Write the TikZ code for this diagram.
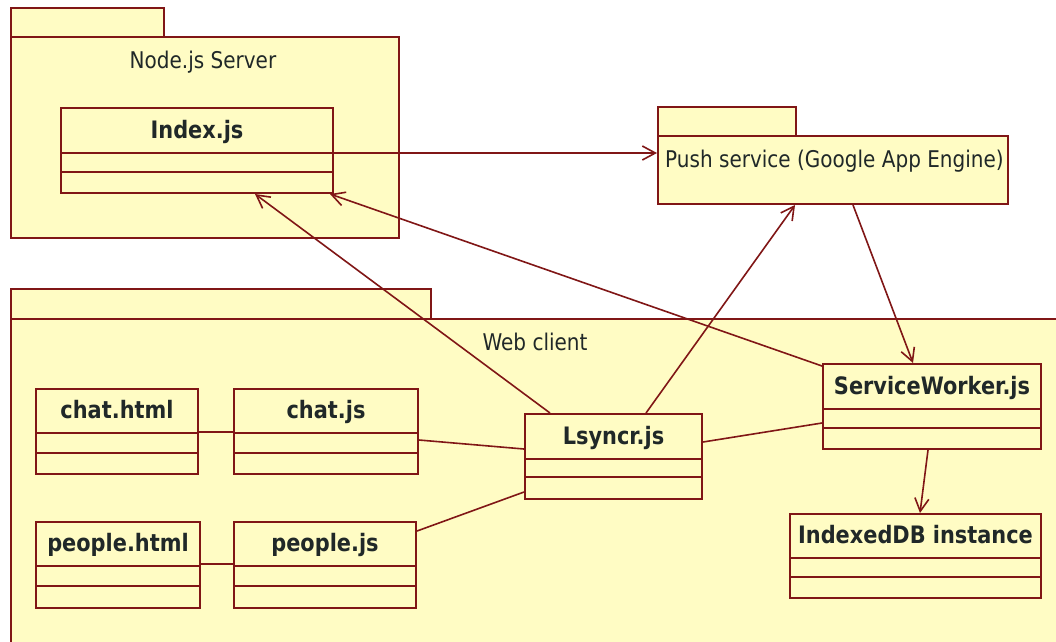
\documentclass[tikz,border=0pt]{standalone}
\usepackage{fontspec}
\setmainfont{DejaVu Sans}[FakeStretch=0.87]
\usetikzlibrary{arrows.meta}
\definecolor{umlfill}{RGB}{255,252,196}
\definecolor{umlline}{RGB}{128,22,22}
\definecolor{umltext}{RGB}{32,40,40}
\tikzset{
  box/.style={draw=umlline, fill=umlfill, line width=2pt, inner sep=0pt, anchor=north west},
  cname/.style={font=\bfseries\fontsize{24}{28}\selectfont, text=umltext, anchor=base, inner sep=0pt},
  ptitle/.style={font=\fontsize{23}{27}\selectfont, text=umltext, anchor=base, inner sep=0pt},
  dep/.style={draw=umlline, line width=1.6pt, -{Straight Barb[length=13pt,width=14pt]}},
  assoc/.style={draw=umlline, line width=1.6pt},
  divider/.style={draw=umlline, line width=2pt},
}
\newcommand\umlclass[8]{%
  \node[box, minimum width=#4pt, minimum height=#5pt] (#1) at (#2,#3) {};
  \draw[divider] (#1.west |- 0,#6) -- (#1.east |- 0,#6);
  \draw[divider] (#1.west |- 0,#7) -- (#1.east |- 0,#7);
  \node[cname, yshift=15pt] (#1-t) at (#1.north |- 0,#6) {#8};
}
\begin{document}
\begin{tikzpicture}[x=1pt,y=-1pt]
\useasboundingbox (0,0) rectangle (1056,641);
\clip (0,0) rectangle (1056,641);
\fill[white] (0,0) rectangle (1056,641);

% Node.js Server package
\node[box, minimum width=153pt, minimum height=29pt] (srvtab) at (10,7) {};
\node[box, minimum width=388pt, minimum height=201pt] (srv) at (10,36) {};
\node[ptitle] (srvt) at (203,68) {Node.js Server};

% Push service package
\node[box, minimum width=138pt, minimum height=29pt] (pushtab) at (657,106) {};
\node[box, minimum width=350pt, minimum height=68pt] (push) at (657,135) {};
\node[ptitle, anchor=base west] (pusht) at (665,167) {Push service (Google App Engine)};

% Web client package
\node[box, minimum width=420pt, minimum height=30pt] (webtab) at (10,288) {};
\node[box, minimum width=1100pt, minimum height=400pt] (web) at (10,318) {};
\node[ptitle] (webt) at (535,350) {Web client};

% classes
\umlclass{idx}{60}{107}{272}{85}{153}{172}{Index.js}
\umlclass{chtml}{35}{388}{162}{85}{433}{453}{chat.html}
\umlclass{cjs}{233}{388}{184}{85}{433}{453}{chat.js}
\umlclass{phtml}{35}{521}{164}{86}{566}{586}{people.html}
\umlclass{pjs}{233}{521}{182}{86}{566}{586}{people.js}
\umlclass{lsy}{524}{413}{177}{85}{459}{477}{Lsyncr.js}
\umlclass{sw}{822}{363}{218}{85}{409}{428}{ServiceWorker.js}
\umlclass{idb}{789}{513}{251}{84}{558}{577}{IndexedDB instance}

% dependencies
\draw[dep] (idx.east |- 0,153) -- (push.west |- 0,153);
\draw[dep] ([xshift=26pt]lsy.north west) -- ([xshift=195pt]idx.south west);
\draw[dep] ([yshift=-3pt]sw.north west) -- ([xshift=-4pt]idx.south east);
\draw[dep] ([xshift=122pt]lsy.north west) -- ([xshift=138pt]push.south west);
\draw[dep] ([xshift=196pt]push.south west) -- ([xshift=91pt]sw.north west);
\draw[dep] ([xshift=106pt]sw.south west) -- ([xshift=131pt]idb.north west);

% associations
\draw[assoc] (chtml.east |- 0,432) -- (cjs.west |- 0,432);
\draw[assoc] (phtml.east |- 0,564) -- (pjs.west |- 0,564);
\draw[assoc] (cjs.east |- 0,440) -- (lsy.west |- 0,449);
\draw[assoc] (pjs.east |- 0,531) -- (lsy.west |- 0,492);
\draw[assoc] (lsy.east |- 0,442) -- (sw.west |- 0,423);
\end{tikzpicture}
\end{document}
